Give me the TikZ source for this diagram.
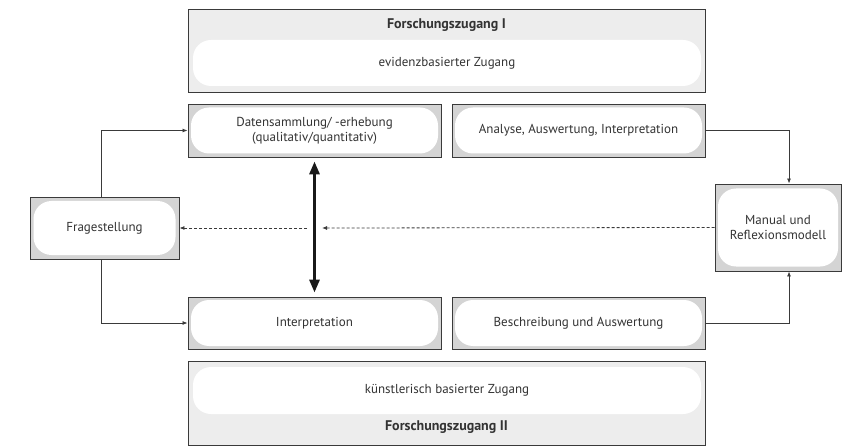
\documentclass[tikz,border=0pt]{standalone}
\usepackage{fontspec}
\setmainfont{PT Sans}
\usetikzlibrary{positioning,arrows.meta}
\definecolor{rahmen}{HTML}{3A3A3A}
\definecolor{grau}{HTML}{D4D4D4}
\definecolor{hell}{HTML}{EDEDED}
\definecolor{schrift}{HTML}{333333}

\begin{document}
\begin{tikzpicture}[x=1pt, y=-1pt, font=\fontsize{13}{15}\selectfont,
      feld/.style={draw=rahmen, line width=0.9pt, fill=grau, minimum width=253pt,
                   minimum height=53pt, inner sep=0pt},
      kern/.style={fill=white, rounded corners=18pt, minimum width=247pt, minimum height=46pt,
                   align=center, inner sep=0pt, text=schrift},
      band/.style={draw=rahmen, line width=0.9pt, fill=hell, minimum width=517pt,
                   minimum height=83pt, inner sep=0pt},
      titel/.style={text=schrift, font=\fontsize{14}{16}\selectfont\bfseries},
      pfeil/.style={-{Latex[length=5pt,width=4pt]}, line width=0.8pt, draw=rahmen}]
    \useasboundingbox (0,0) rectangle (842,446);
    % Forschungszugang I
    \node[band] (z1) at (446.5,50.5) {};
    \node[kern, minimum width=508pt] (z1k) at (447,63) {evidenzbasierter Zugang};
    \node[titel] (z1t) at (446.5,25) {Forschungszugang I};
    % mittlere Felder
    \node[feld] (d) at (314.5,130.5) {};
    \node[kern] (dk) at (d) {Datensammlung/ -erhebung\\(qualitativ/quantitativ)};
    \node[feld] (a) at (578.5,130.5) {};
    \node[kern] (ak) at (a) {Analyse, Auswertung, Interpretation};
    \node[feld, minimum height=52pt] (i) at (314.5,323) {};
    \node[kern] (ik) at (i) {Interpretation};
    \node[feld, minimum height=52pt] (b) at (578.5,323) {};
    \node[kern] (bk) at (b) {Beschreibung und Auswertung};
    % Forschungszugang II
    \node[band, minimum height=84pt] (z2) at (446.5,403) {};
    \node[kern, minimum width=508pt, minimum height=47pt] (z2k) at (447,390.5) {künstlerisch basierter Zugang};
    \node[titel] (z2t) at (446.5,427) {Forschungszugang II};
    % Seiten
    \node[feld, minimum width=149pt, minimum height=62pt] (f) at (104.5,228) {};
    \node[kern, minimum width=142pt, minimum height=54pt] (fk) at (f) {Fragestellung};
    \node[feld, minimum width=126pt, minimum height=87pt] (m) at (778,227.5) {};
    \node[kern, minimum width=120pt, minimum height=78pt] (mk) at (m) {Manual und\\Reflexionsmodell};
    % Verbindungen
    \draw[pfeil] ([xshift=-3pt]f.north) |- (d.west);
    \draw[pfeil] ([xshift=-3pt]f.south) |- (i.west);
    \draw[pfeil] (a.east) -| ([xshift=11pt]m.north);
    \draw[pfeil] (b.east) -| ([xshift=11pt]m.south);
    \coordinate (gr) at (322,228);
    \coordinate (gl) at (307,228);
    \draw[pfeil, dash pattern=on 3pt off 2pt] (m.west) -- (gr);
    \draw[pfeil, dash pattern=on 3pt off 2pt] (gl) -- (f.east);
    \draw[{Triangle[length=13pt,width=10pt]}-{Triangle[length=13pt,width=10pt]}, line width=3pt,
          draw=black!90, shorten <=4pt, shorten >=4pt] (d.south) -- (i.north);
  \end{tikzpicture}
\end{document}
